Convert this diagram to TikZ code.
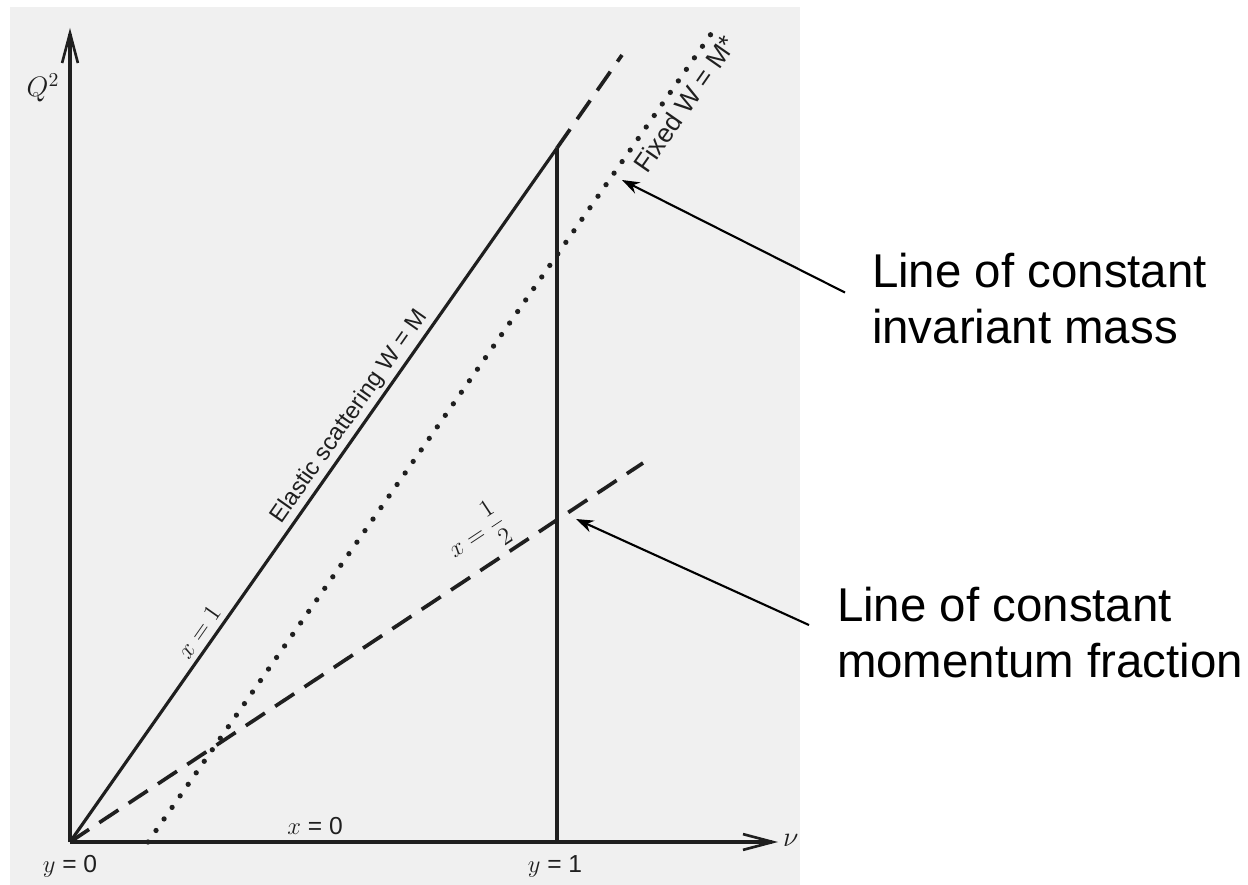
\RequirePackage{fix-cm}
\documentclass[tikz,border=0pt]{standalone}
\usepackage{fontspec}
\setmainfont{Liberation Sans}
\usetikzlibrary{arrows.meta}

\tikzstyle{every node}=[inner sep=0pt, outer sep=0pt]
\tikzstyle{ink}=[draw=black!88, line width=1.8pt]
\tikzstyle{axisline}=[ink, -{Straight Barb[length=17pt,width=9pt,line width=1.5pt]}]
\tikzstyle{dashline}=[ink, line width=2.1pt, dash pattern=on 13pt off 7pt]
\tikzstyle{dotline}=[draw=black!88, line width=3pt, line cap=round, dash pattern=on 0pt off 8pt]
\tikzstyle{lbl}=[text=black!88, font=\fontsize{14}{16}\selectfont]
\tikzstyle{note}=[anchor=north west, align=left, font=\fontsize{27}{32}\selectfont]
\tikzstyle{pointer}=[draw=black, line width=1.2pt, -{Stealth[length=10pt,width=7pt]}]

\begin{document}
\begin{tikzpicture}[x=0.02cm, y=-0.02cm]
    \useasboundingbox (0,0) rectangle (1248,885);
    \fill [black!6] (10,7) rectangle (800,885);

    % axes
    \coordinate (O) at (70,842);
    \coordinate (ytop) at (70,28);
    \coordinate (xend) at (778,842);
    \draw [axisline] (O) -- (ytop);
    \draw [axisline] (O) -- (xend);

    % y = 1 and the lines of the plane
    \coordinate (ybase) at (557,842);
    \coordinate (apex) at (557,148);
    \coordinate (apexext) at (622,55);
    \coordinate (dotstart) at (148,842);
    \coordinate (dotend) at (718,24);
    \coordinate (halfend) at (643,463);
    \draw [ink] (ybase) -- (apex);
    \draw [ink] (O) -- (apex);
    \draw [dashline] (apex) -- (apexext);
    \draw [dashline] (O) -- (halfend);
    \draw [dotline] (dotstart) -- (dotend);

    % labels on the lines
    \path (O) -- (apex)
        node [lbl, pos=0.29, above=4pt, sloped] (xone) {$x = 1$}
        node [lbl, pos=0.6, above=2.5pt, sloped, font=\fontsize{13.5}{16}\selectfont] (elastic) {Elastic scattering W = M};
    \path (dotstart) -- (dotend)
        node [lbl, pos=0.915, below=5pt, sloped, font=\fontsize{15}{17}\selectfont] (fixed) {Fixed W = M*};
    \path (O) -- (halfend)
        node [lbl, pos=0.74, above=4pt, sloped] (xhalf) {$x = {\displaystyle\frac{1}{2}}$};

    \node [lbl, font=\fontsize{16}{18}\selectfont] (qsq) at (43,88) {$Q^2$};
    \node [lbl] (yzero) at (70,866) {$y$ = 0};
    \node [lbl] (yone) at (555,866) {$y$ = 1};
    \node [lbl] (xzero) at (315,826) {$x$ = 0};
    \node [lbl, anchor=west, font=\fontsize{16}{18}\selectfont] (nu) at (783,840) {$\nu$};

    % callouts
    \node [note] (massnote) at (872,253) {Line of constant\\invariant mass};
    \node [note] (fracnote) at (837,587) {Line of constant\\momentum fraction};
    \coordinate (onmass) at (622,180);
    \coordinate (onfrac) at (576,519);
    \draw [pointer] ([xshift=-0.54cm, yshift=0.12cm]massnote.west) -- (onmass);
    \draw [pointer] ([xshift=-0.56cm, yshift=0.15cm]fracnote.west) -- (onfrac);
\end{tikzpicture}
\end{document}
